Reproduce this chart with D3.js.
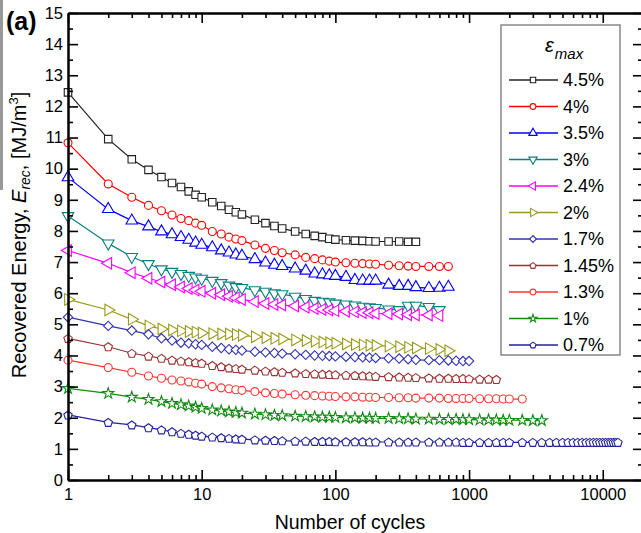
<!DOCTYPE html>
<html>
<head>
<meta charset="utf-8">
<script src="https://cdn.jsdelivr.net/npm/d3@7"></script>
<style>
body { margin: 0; background: #fff; }
text { font-family: Arial, "Liberation Sans", sans-serif; }
</style>
</head>
<body>
<svg width="641" height="533"></svg>
<script>
// cycle numbers where the markers sit (each series stops at its own length)
var cycles = [1, 2, 3, 4, 5, 6, 7, 8, 9, 10, 12, 14, 16, 18, 20, 25, 30, 35, 40, 50,
    60, 70, 80, 90, 100, 120, 140, 160, 180, 200, 250, 300, 350, 400, 500, 600, 700, 800, 900, 1000,
    1200, 1400, 1600, 1800, 2000, 2500, 3000, 3500, 4000, 4500, 5000, 5500, 6000, 6500, 7000, 7500,
    8000, 8500, 9000, 9500, 10000, 10500, 11000, 11500, 12000, 12500, 13000];

var labels = ["4.5%", "4%", "3.5%", "3%", "2.4%", "2%", "1.7%", "1.45%", "1.3%", "1%", "0.7%"];
var colors = ["#222222", "#ff0000", "#0000ff", "#0b8080", "#ff00ff", "#9a9a1a", "#3333b0", "#993333", "#ff3333", "#128a12", "#22229a"];
var shapes = ["square", "circle", "triUp", "triDown", "triLeft", "triRight", "diamond", "pentagon", "circle", "star", "pentagon"];

var e45 = [12.45, 10.95, 10.3, 9.96, 9.73, 9.54, 9.41, 9.27, 9.16, 9.08, 8.92, 8.8, 8.68, 8.6, 8.53, 8.36, 8.25, 8.16, 8.08, 7.98,
    7.9, 7.84, 7.8, 7.75, 7.72, 7.7, 7.69, 7.68, 7.67, 7.66, 7.66, 7.66, 7.65, 7.65];
var e40 = [10.83, 9.51, 9.08, 8.82, 8.65, 8.51, 8.4, 8.33, 8.25, 8.18, 7.98, 7.9, 7.8, 7.74, 7.69, 7.55, 7.44, 7.37, 7.3, 7.23,
    7.15, 7.11, 7.07, 7.03, 7.0, 6.98, 6.96, 6.95, 6.94, 6.93, 6.9, 6.88, 6.87, 6.86, 6.86, 6.86, 6.86];
var e35 = [9.72, 8.7, 8.33, 8.14, 7.98, 7.89, 7.8, 7.71, 7.62, 7.55, 7.47, 7.37, 7.3, 7.24, 7.2, 7.09, 6.98, 6.91, 6.87, 6.79,
    6.72, 6.63, 6.6, 6.57, 6.55, 6.52, 6.42, 6.4, 6.4, 6.4, 6.27, 6.23, 6.23, 6.19, 6.16, 6.17, 6.2];
var e30 = [8.48, 7.6, 7.17, 6.94, 6.77, 6.69, 6.62, 6.56, 6.51, 6.47, 6.4, 6.33, 6.25, 6.2, 6.17, 6.1, 6.05, 6.0, 5.97, 5.89,
    5.82, 5.76, 5.73, 5.71, 5.67, 5.64, 5.61, 5.57, 5.55, 5.53, 5.48, 5.46, 5.6, 5.6, 5.56, 5.46];
var e24 = [7.37, 6.96, 6.66, 6.48, 6.36, 6.27, 6.2, 6.15, 6.1, 6.06, 6.0, 5.95, 5.9, 5.85, 5.8, 5.73, 5.67, 5.64, 5.62, 5.59,
    5.55, 5.51, 5.48, 5.46, 5.44, 5.42, 5.4, 5.38, 5.37, 5.35, 5.34, 5.33, 5.31, 5.3, 5.3, 5.28];
var e20 = [5.8, 5.46, 5.16, 4.95, 4.85, 4.82, 4.79, 4.77, 4.75, 4.72, 4.7, 4.69, 4.69, 4.67, 4.65, 4.6, 4.57, 4.55, 4.53, 4.5,
    4.48, 4.46, 4.43, 4.41, 4.39, 4.37, 4.35, 4.34, 4.33, 4.32, 4.3, 4.28, 4.26, 4.24, 4.22, 4.19, 4.15];
var e17 = [5.23, 4.95, 4.8, 4.68, 4.55, 4.48, 4.41, 4.39, 4.36, 4.34, 4.28, 4.24, 4.2, 4.18, 4.16, 4.12, 4.1, 4.08, 4.06, 4.04,
    4.02, 4.0, 3.99, 3.98, 3.97, 3.96, 3.95, 3.94, 3.93, 3.92, 3.91, 3.9, 3.88, 3.86, 3.85, 3.85, 3.84, 3.83, 3.82, 3.82];
var e145 = [4.55, 4.28, 4.07, 3.98, 3.91, 3.85, 3.82, 3.8, 3.77, 3.75, 3.68, 3.64, 3.6, 3.58, 3.56, 3.53, 3.5, 3.48, 3.46, 3.44,
    3.42, 3.41, 3.4, 3.39, 3.38, 3.37, 3.36, 3.35, 3.34, 3.33, 3.32, 3.31, 3.3, 3.29, 3.28, 3.27, 3.27, 3.26, 3.26, 3.25,
    3.24, 3.24, 3.23];
var e13 = [3.85, 3.61, 3.46, 3.34, 3.27, 3.21, 3.18, 3.15, 3.11, 3.08, 3.0, 2.96, 2.93, 2.9, 2.88, 2.84, 2.8, 2.78, 2.76, 2.74,
    2.72, 2.71, 2.7, 2.69, 2.68, 2.67, 2.67, 2.66, 2.66, 2.65, 2.65, 2.64, 2.64, 2.63, 2.63, 2.63, 2.62, 2.62, 2.62, 2.62,
    2.61, 2.61, 2.61, 2.6, 2.6, 2.6];
var e10 = [2.94, 2.78, 2.66, 2.59, 2.52, 2.46, 2.42, 2.38, 2.34, 2.3, 2.25, 2.22, 2.19, 2.17, 2.15, 2.12, 2.1, 2.08, 2.07, 2.05,
    2.04, 2.03, 2.02, 2.02, 2.01, 2.0, 2.0, 1.99, 1.99, 1.98, 1.98, 1.97, 1.97, 1.96, 1.96, 1.95, 1.95, 1.95, 1.94, 1.94,
    1.93, 1.93, 1.93, 1.92, 1.92, 1.92, 1.91, 1.91];
var e07 = [2.09, 1.85, 1.77, 1.68, 1.61, 1.55, 1.5, 1.47, 1.44, 1.41, 1.38, 1.36, 1.34, 1.32, 1.31, 1.29, 1.28, 1.27, 1.26, 1.25,
    1.25, 1.24, 1.24, 1.24, 1.23, 1.23, 1.23, 1.23, 1.22, 1.22, 1.22, 1.22, 1.22, 1.22, 1.22, 1.22, 1.22, 1.22, 1.21, 1.21,
    1.21, 1.21, 1.21, 1.21, 1.21, 1.21, 1.21, 1.21, 1.21, 1.21, 1.21, 1.21, 1.21, 1.21, 1.21, 1.21, 1.21, 1.21, 1.21, 1.21,
    1.21, 1.21, 1.21, 1.21, 1.21, 1.21, 1.21];

var values = [e45, e40, e35, e30, e24, e20, e17, e145, e13, e10, e07];

var xTicks = [1, 10, 100, 1000, 10000];
var yTicks = d3.range(0, 16, 1);

var svg = d3.select("svg");
var mLeft = 68, mRight = 643, mTop = 13, mBottom = 480;

var x = d3.scaleLog().domain([1, 20000]).range([mLeft, mRight]);
var y = d3.scaleLinear().domain([0, 15]).range([mBottom, mTop]);

// faint grey strip at the left edge of the scan
svg.append("rect").attr("x", 0).attr("y", 0).attr("width", 3).attr("height", 190).attr("fill", "#999");

// symbols
function pentagon(r) {
    var pts = d3.range(5).map(function (k) {
        var a = -Math.PI / 2 + k * 2 * Math.PI / 5;
        return [r * Math.cos(a), r * Math.sin(a) + r * 0.1];
    });
    return "M" + pts.join("L") + "Z";
}
function markerPath(shape, s) {
    switch (shape) {
        case "square": return d3.symbol(d3.symbolSquare, 56 * s * s)();
        case "circle": return d3.symbol(d3.symbolCircle, 50 * s * s)();
        case "triUp": case "triDown": case "triLeft": case "triRight":
            return d3.symbol(d3.symbolTriangle, 58 * s * s)();
        case "diamond": return d3.symbol(d3.symbolSquare, 44 * s * s)();
        case "star": return d3.symbol(d3.symbolStar, 38 * s * s)();
        case "pentagon": return pentagon(4.4 * s);
    }
}
function markerRot(shape) {
    return {triDown: 180, triLeft: -90, triRight: 90, diamond: 45}[shape] || 0;
}

var series = labels.map(function (lab, i) {
    return {
        label: lab, color: colors[i], shape: shapes[i],
        points: values[i].map(function (v, j) { return {n: cycles[j], v: v}; })
    };
});

var line = d3.line().x(function (d) { return x(d.n); }).y(function (d) { return y(d.v); });

var plot = svg.append("g");
series.forEach(function (s) {
    var g = plot.append("g");
    g.append("path").attr("d", line(s.points)).attr("fill", "none")
        .attr("stroke", s.color).attr("stroke-width", 1.2);
    g.selectAll("path.m").data(s.points).enter().append("path").attr("class", "m")
        .attr("d", markerPath(s.shape, 1))
        .attr("transform", function (d) {
            return "translate(" + x(d.n) + "," + y(d.v) + ") rotate(" + markerRot(s.shape) + ")";
        })
        .attr("fill", "#fff").attr("stroke", s.color).attr("stroke-width", 1.1);
});

// axes
var xMinor = [];
[1, 10, 100, 1000, 10000].forEach(function (d) {
    for (var k = 2; k <= 9; k++) xMinor.push(d * k);
});
var yMinor = d3.range(0.5, 15, 1);

function styleAxis(g) {
    g.attr("font-size", 16.5).attr("font-family", "Arial, 'Liberation Sans', sans-serif");
    g.select(".domain").attr("stroke-width", 2).attr("stroke", "#000");
    g.selectAll(".tick line").attr("stroke-width", 1.6).attr("stroke", "#000");
    g.selectAll(".tick text").attr("fill", "#000");
}

svg.append("g").attr("transform", "translate(0," + mBottom + ")")
    .call(d3.axisBottom(x).tickValues(xTicks).tickFormat(d3.format("d")).tickSize(-10).tickSizeOuter(0).tickPadding(8))
    .call(styleAxis);
svg.append("g").attr("transform", "translate(0," + mBottom + ")")
    .call(d3.axisBottom(x).tickValues(xMinor).tickFormat("").tickSize(-5).tickSizeOuter(0))
    .call(styleAxis);
svg.append("g").attr("transform", "translate(0," + mTop + ")")
    .call(d3.axisTop(x).tickValues(xTicks).tickFormat("").tickSize(-10).tickSizeOuter(0))
    .call(styleAxis);
svg.append("g").attr("transform", "translate(0," + mTop + ")")
    .call(d3.axisTop(x).tickValues(xMinor).tickFormat("").tickSize(-5).tickSizeOuter(0))
    .call(styleAxis);

svg.append("g").attr("transform", "translate(" + mLeft + ",0)")
    .call(d3.axisLeft(y).tickValues(yTicks).tickSize(-10).tickSizeOuter(0).tickPadding(5))
    .call(styleAxis);
svg.append("g").attr("transform", "translate(" + mLeft + ",0)")
    .call(d3.axisLeft(y).tickValues(yMinor).tickFormat("").tickSize(-5).tickSizeOuter(0))
    .call(styleAxis);
svg.append("g").attr("transform", "translate(" + mRight + ",0)")
    .call(d3.axisRight(y).tickValues(yTicks).tickFormat("").tickSize(-10).tickSizeOuter(0))
    .call(styleAxis);
svg.append("g").attr("transform", "translate(" + mRight + ",0)")
    .call(d3.axisRight(y).tickValues(yMinor).tickFormat("").tickSize(-5).tickSizeOuter(0))
    .call(styleAxis);

// axis titles
svg.append("text").attr("x", 350).attr("y", 529).attr("text-anchor", "middle")
    .attr("font-size", 19.5).text("Number of cycles");

var yl = svg.append("text").attr("transform", "translate(26,235) rotate(-90)")
    .attr("text-anchor", "middle").attr("font-size", 20);
yl.append("tspan").text("Recovered Energy, ");
yl.append("tspan").attr("font-style", "italic").text("E");
yl.append("tspan").attr("font-style", "italic").attr("font-size", 14).attr("dy", 4).text("rec");
yl.append("tspan").attr("dy", -4).text(", [MJ/m");
yl.append("tspan").attr("font-size", 13).attr("dy", -8).text("3");
yl.append("tspan").attr("dy", 8).text("]");

svg.append("text").attr("x", 6).attr("y", 30).attr("font-size", 25).attr("font-weight", "bold").text("(a)");

// legend
var leg = svg.append("g");
leg.append("rect").attr("x", 501).attr("y", 25).attr("width", 119).attr("height", 330)
    .attr("fill", "#fff").attr("stroke", "#888").attr("stroke-width", 1.5);
var lt = leg.append("text").attr("x", 545).attr("y", 52).attr("font-style", "italic").attr("font-size", 20);
lt.append("tspan").text("\u03b5");
lt.append("tspan").attr("font-size", 15).attr("dx", 1).attr("dy", 7).text("max");

var row = leg.selectAll("g.row").data(series).enter().append("g").attr("class", "row")
    .attr("transform", function (d, i) { return "translate(0," + (80 + i * 26.5) + ")"; });
row.append("line").attr("x1", 509).attr("x2", 558).attr("y1", 0).attr("y2", 0)
    .attr("stroke", function (d) { return d.color; }).attr("stroke-width", 1.4);
row.append("path").attr("d", function (d) { return markerPath(d.shape, 0.72); })
    .attr("transform", function (d) { return "translate(533,0) rotate(" + markerRot(d.shape) + ")"; })
    .attr("fill", "#fff").attr("stroke", function (d) { return d.color; }).attr("stroke-width", 1.1);
row.append("text").attr("x", 563).attr("y", 0).attr("dy", "0.36em").attr("font-size", 18)
    .text(function (d) { return d.label; });
</script>
</body>
</html>
